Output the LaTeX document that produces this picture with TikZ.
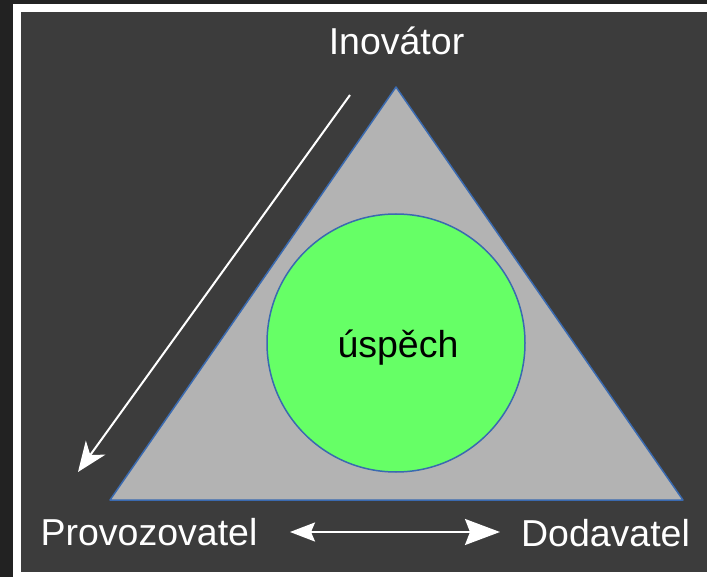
\documentclass[tikz,border=0pt]{standalone}
\usepackage{fontspec}
\setmainfont{Liberation Sans}
\usetikzlibrary{arrows.meta}
\definecolor{outerbg}{HTML}{222222}
\definecolor{panel}{HTML}{3C3C3C}
\definecolor{trifill}{HTML}{B3B3B3}
\definecolor{edgeblue}{HTML}{3A6AB0}
\definecolor{green}{HTML}{66FF66}
\tikzset{
  lbl/.style={text=white, inner sep=0pt, anchor=base, font=\fontsize{37.5}{45}\selectfont},
  conn/.style={draw=white, line width=2pt},
}
\begin{document}
\begin{tikzpicture}[x=1pt,y=-1pt]
\useasboundingbox (0,0) rectangle (707,577);
\fill[outerbg] (0,0) rectangle (707,577);
\fill[white] (13,4) rectangle (707,577);
\fill[panel] (21,12) rectangle (707,572);
% triangle
\coordinate (top) at (396,87);
\coordinate (bl) at (110,500);
\coordinate (br) at (683,500);
\filldraw[fill=trifill, draw=edgeblue, line width=1.5pt, line join=round] (top) -- (bl) -- (br) -- cycle;
% circle
\node[circle, fill=green, draw=edgeblue, line width=1.5pt, minimum size=258pt, inner sep=0pt] (succ) at (396,343) {};
\node[lbl, text=black] (uspech) at (398,357) {úspěch};
% labels
\node[lbl] (inov) at (396.5,55) {Inovátor};
\node[lbl] (prov) at (149,545) {Provozovatel};
\node[lbl] (doda) at (605.5,546) {Dodavatel};
% connectors
\coordinate (dA) at (350,95);
\coordinate (dB) at (78,472);
\draw[conn, -{Stealth[length=30pt, width=24pt, inset=9pt]}] (dA) -- (dB);
\coordinate (hA) at (290,532);
\coordinate (hB) at (500,532);
\draw[conn, {Stealth[length=25pt, width=19pt, inset=4pt]}-{Stealth[length=35pt, width=26pt, inset=5pt]}] (hA) -- (hB);
\end{tikzpicture}
\end{document}
